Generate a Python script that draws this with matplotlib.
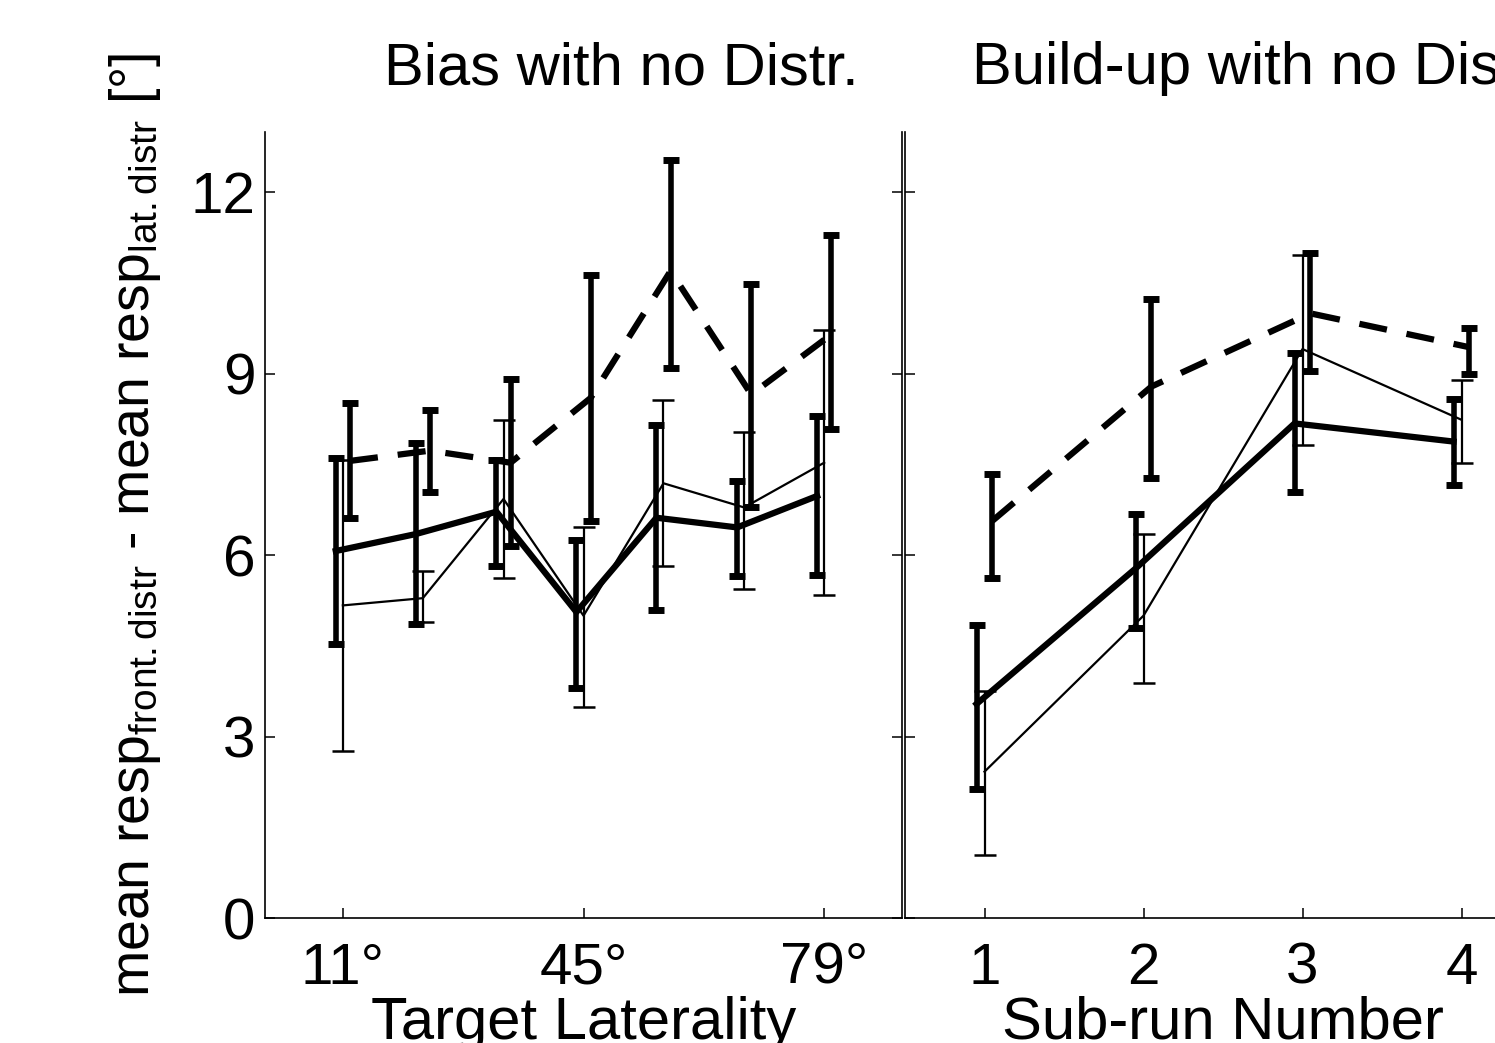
import numpy as np
import matplotlib
matplotlib.use('Agg')
import matplotlib.pyplot as plt

plt.rcParams['font.family'] = ['Liberation Sans', 'DejaVu Sans']
plt.rcParams['mathtext.fontset'] = 'custom'
plt.rcParams['mathtext.rm'] = 'Liberation Sans'
plt.rcParams['mathtext.it'] = 'Liberation Sans'

# left panel: target laterality
lat = [11, 22.3, 33.7, 45, 56.3, 67.7, 79]
lat_ticks = [11, 45, 79]
lat_labels = ['11°', '45°', '79°']

lat_thick = [6.07, 6.35, 6.72, 5.06, 6.62, 6.46, 6.98]
lat_thick_lo = [4.53, 4.86, 5.82, 3.81, 5.09, 5.65, 5.67]
lat_thick_hi = [7.60, 7.85, 7.58, 6.25, 8.15, 7.23, 8.30]

lat_thin = [5.17, 5.29, 6.93, 5.00, 7.19, 6.79, 7.53]
lat_thin_lo = [2.76, 4.89, 5.63, 3.49, 5.83, 5.44, 5.35]
lat_thin_hi = [7.58, 5.74, 8.24, 6.47, 8.57, 8.04, 9.73]

lat_dash = [7.56, 7.73, 7.53, 8.60, 10.70, 8.66, 9.65]
lat_dash_lo = [6.61, 7.05, 6.15, 6.57, 9.09, 6.79, 8.08]
lat_dash_hi = [8.51, 8.41, 8.91, 10.63, 12.54, 10.49, 11.29]

# right panel: sub-run number
sub = [1, 2, 3, 4]
sub_thick = [3.54, 5.78, 8.18, 7.88]
sub_thick_lo = [2.14, 4.80, 7.05, 7.16]
sub_thick_hi = [4.85, 6.69, 9.35, 8.58]

sub_thin = [2.42, 5.00, 9.41, 8.24]
sub_thin_lo = [1.05, 3.88, 7.83, 7.53]
sub_thin_hi = [3.76, 6.35, 10.97, 8.90]

sub_dash = [6.57, 8.79, 10.00, 9.44]
sub_dash_lo = [5.63, 7.27, 9.05, 9.00]
sub_dash_hi = [7.34, 10.23, 11.00, 9.75]

yticks = [0, 3, 6, 9, 12]


def draw(ax, x, shift, m, lo, hi, style):
	x = np.array(x) + shift
	m = np.array(m)
	err = [m - np.array(lo), np.array(hi) - m]
	if style == 'thick':
		ax.errorbar(x, m, yerr=err, color='k', lw=4.5, elinewidth=4, capsize=6, capthick=5)
	elif style == 'thin':
		ax.errorbar(x, m, yerr=err, color='k', lw=1.6, elinewidth=1.6, capsize=8, capthick=1.8)
	else:
		ax.errorbar(x, m, yerr=err, color='k', lw=4.5, ls=(0, (4.5, 3.2)), elinewidth=4, capsize=6, capthick=5)


def style_axes(ax):
	ax.spines['top'].set_visible(False)
	for s in ['left', 'right', 'bottom']:
		ax.spines[s].set_linewidth(1.2)
	ax.tick_params(direction='in', length=7, width=1.1, labelsize=42, left=True, right=True)
	ax.set_ylim(0, 13)
	ax.set_yticks(yticks)


fig = plt.figure(figsize=(14.95, 10.43), dpi=100)
ax1 = fig.add_axes([265/1495, 125/1043, 637/1495, 786/1043])
ax2 = fig.add_axes([905/1495, 125/1043, 636/1495, 786/1043])

draw(ax1, lat, -1.0, lat_thick, lat_thick_lo, lat_thick_hi, 'thick')
draw(ax1, lat, 0.0, lat_thin, lat_thin_lo, lat_thin_hi, 'thin')
draw(ax1, lat, 1.0, lat_dash, lat_dash_lo, lat_dash_hi, 'dash')

draw(ax2, sub, -0.05, sub_thick, sub_thick_lo, sub_thick_hi, 'thick')
draw(ax2, sub, 0.0, sub_thin, sub_thin_lo, sub_thin_hi, 'thin')
draw(ax2, sub, 0.05, sub_dash, sub_dash_lo, sub_dash_hi, 'dash')

style_axes(ax1)
style_axes(ax2)
ax1.set_xlim(0, 90)
ax1.set_xticks(lat_ticks)
ax1.set_xticklabels(lat_labels)
ax2.set_xlim(0.5, 4.5)
ax2.set_xticks(sub)
ax2.set_yticklabels([])
ax1.tick_params(axis='y', pad=7)
ax1.tick_params(axis='x', pad=17)
ax2.tick_params(axis='x', pad=17)

ax1.set_xlabel('Target Laterality', fontsize=43, labelpad=0)
ax2.set_xlabel('Sub-run Number', fontsize=43, labelpad=0)
ax1.set_ylabel(r'mean resp$_{\mathrm{front.distr}}$ - mean resp$_{\mathrm{lat.distr}}$ [°]', fontsize=40, labelpad=20)

ax1.text(0.56, 1.061, 'Bias with no Distr.', transform=ax1.transAxes, ha='center', va='baseline', fontsize=43)
ax2.text(0.56, 1.061, 'Build-up with no Distr.', transform=ax2.transAxes, ha='center', va='baseline', fontsize=43)

fig.savefig('out.png', dpi=100)
